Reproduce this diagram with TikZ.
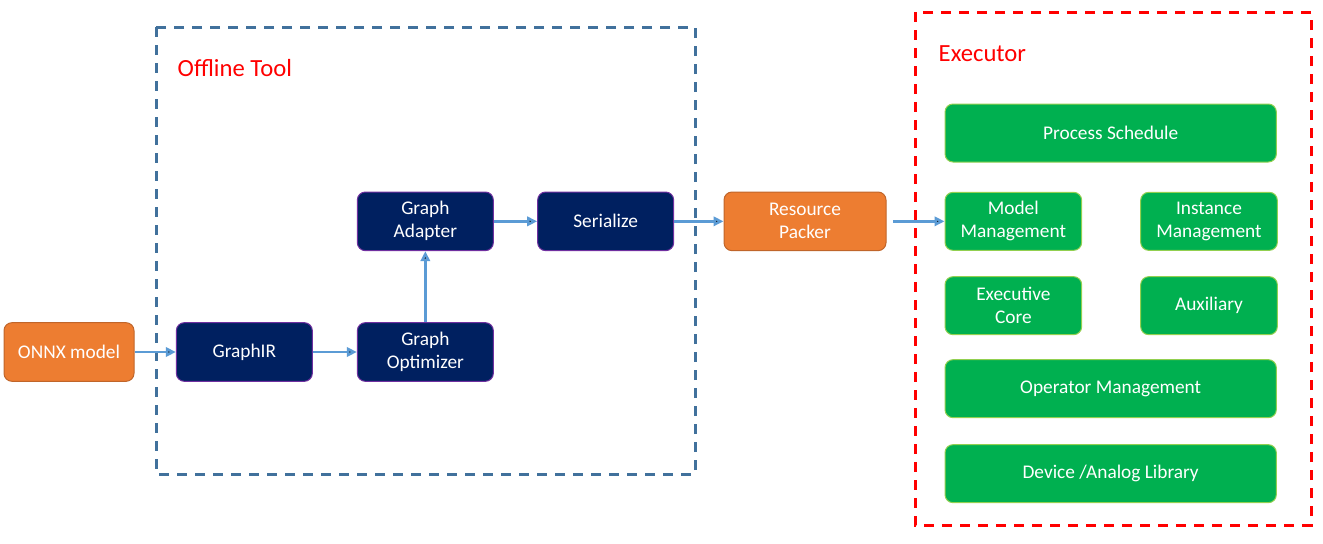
\documentclass[tikz,border=0pt]{standalone}
\usepackage{fontspec}
\setmainfont{Carlito}
\usetikzlibrary{arrows.meta}
\usetikzlibrary{positioning}

\definecolor{pkorange}{HTML}{ED7D31}
\definecolor{pkorangedk}{HTML}{C0652A}
\definecolor{toolnavy}{HTML}{002060}
\definecolor{toolpurple}{HTML}{7030A0}
\definecolor{execgreen}{HTML}{00B050}
\definecolor{execlime}{HTML}{92D050}
\definecolor{flowblue}{HTML}{5B9BD5}
\definecolor{frameblue}{HTML}{41719C}

\begin{document}
\begin{tikzpicture}[x=0.75pt,y=-0.75pt,
	>={Triangle[length=7.5pt,width=7pt]},
	box/.style={rounded corners=6pt,text=white,align=center,line width=0.75pt,
		minimum height=44pt,inner sep=0pt,
		font=\fontsize{14.5}{17.25}\selectfont},
	srcbox/.style={box,fill=pkorange,draw=pkorangedk},
	toolbox/.style={box,fill=toolnavy,draw=toolpurple,minimum width=102pt},
	modbox/.style={box,fill=execgreen,draw=execlime,minimum width=102.5pt,minimum height=43.5pt},
	widebox/.style={modbox,minimum width=248.5pt},
	frame/.style={dashed,line width=2.25pt,dash pattern=on 7.5pt off 6pt},
	flow/.style={->,draw=flowblue,line width=2pt}]
	\useasboundingbox (0,0) rectangle (1323,543);
	% offline tool
	\draw[frame,frameblue] (156,27) rectangle (695,474);
	\node[anchor=west,text=red,font=\fontsize{18.5}{22}\selectfont] (tooltitle) at (173,68) {Offline Tool};
	\node[srcbox,minimum width=97.5pt] (onnx) at (69,352) {ONNX model};
	\node[toolbox] (graphir) [right=31pt of onnx] {GraphIR};
	\node[toolbox] (optim) [right=33pt of graphir] {Graph\\Optimizer};
	\node[toolbox] (adapter) [above=53.25pt of optim] {Graph\\Adapter};
	\node[toolbox] (serial) [right=32.5pt of adapter] {Serialize};
	\node[srcbox,minimum width=121.5pt] (packer) [right=37pt of serial] {Resource\\Packer};
	% executor
	\draw[frame,red] (915,12) rectangle (1311,525);
	\node[anchor=west,text=red,font=\fontsize{18.5}{22}\selectfont] (exectitle) at (934,54) {Executor};
	\node[modbox] (modelmgmt) [right=43.5pt of packer] {Model\\Management};
	\node[widebox,anchor=south west] (sched) at ([yshift=22pt]modelmgmt.north west) {Process Schedule};
	\node[modbox] (instmgmt) [right=43.5pt of modelmgmt] {Instance\\Management};
	\node[modbox] (core) [below=19pt of modelmgmt] {Executive\\Core};
	\node[modbox] (aux) [right=43.5pt of core] {Auxiliary};
	\node[widebox,anchor=north west] (opmgmt) at ([yshift=-18pt]core.south west) {Operator Management};
	\node[widebox] (device) [below=19.5pt of opmgmt] {Device /Analog Library};
	\path[flow]	(onnx) edge (graphir)
			(graphir) edge (optim)
			(optim) edge (adapter)
			(adapter) edge (serial)
			(serial) edge (packer)
			(packer) edge[shorten <=5pt] (modelmgmt);
\end{tikzpicture}
\end{document}
